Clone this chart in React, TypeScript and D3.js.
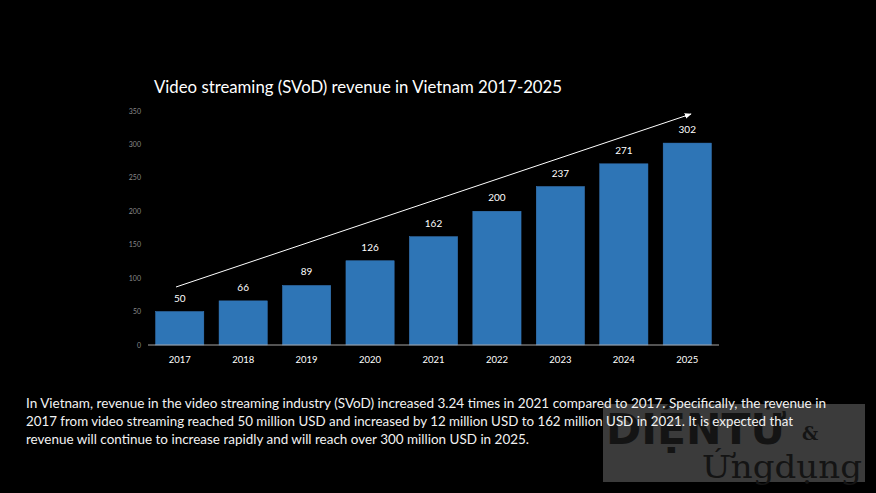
import React from "react";
import * as d3 from "d3";

const years = ["2017", "2018", "2019", "2020", "2021", "2022", "2023", "2024", "2025"];
const revenue = [50, 66, 89, 126, 162, 200, 237, 271, 302];
const yTicks = [0, 50, 100, 150, 200, 250, 300, 350];
const title = "Video streaming (SVoD) revenue in Vietnam 2017-2025";
const paragraph = [
  "In Vietnam, revenue in the video streaming industry (SVoD) increased 3.24 times in 2021 compared to 2017. Specifically, the revenue in",
  "2017 from video streaming reached 50 million USD and increased by 12 million USD to 162 million USD in 2021. It is expected that",
  "revenue will continue to increase rapidly and will reach over 300 million USD in 2025.",
];
const paragraphWidths = [800, 767, 503];

const W = 876;
const H = 493;
const FONT = "Lato, 'Open Sans', sans-serif";

export default function App() {
  const x = d3.scaleBand<string>().domain(years).range([148, 719]).paddingInner(0.24).paddingOuter(0.12);
  const y = d3.scaleLinear().domain([0, 350]).range([345, 111]);
  const arrowStart: [number, number] = [176, 287];
  const arrowEnd: [number, number] = [691, 114];
  return (
    <div style={{ position: "fixed", left: 0, top: 0, width: W, height: H, background: "#000" }}>
      <svg width={W} height={H} style={{ display: "block" }}>
        <defs>
          <marker id="ah" viewBox="0 0 10 10" refX="9" refY="5" markerWidth="7" markerHeight="7" orient="auto">
            <path d="M0,1 L10,5 L0,9 z" fill="#fff" />
          </marker>
        </defs>
        <rect x={0} y={0} width={W} height={H} fill="#000" />
        <text x={154} y={93} fill="#fff" fontFamily={FONT} fontSize={16.8} textLength={408} lengthAdjust="spacingAndGlyphs">{title}</text>
        {yTicks.map((t) => (
          <text key={t} x={141} y={y(t) + 2.5} textAnchor="end" fill="#8a8a8a" fontFamily={FONT} fontSize={7}>{t}</text>
        ))}
        {years.map((yr, i) => (
          <g key={yr}>
            <rect x={x(yr)} y={y(revenue[i])} width={x.bandwidth()} height={y(0) - y(revenue[i])} fill="#2e75b6" stroke="#3a7cc0" strokeWidth={0.5} />
            <text x={(x(yr) ?? 0) + x.bandwidth() / 2} y={y(revenue[i]) - 10} textAnchor="middle" fill="#fff" fontFamily={FONT} fontSize={10}>{revenue[i]}</text>
            <text x={(x(yr) ?? 0) + x.bandwidth() / 2} y={363} textAnchor="middle" fill="#fff" fontFamily={FONT} fontSize={9.5}>{yr}</text>
          </g>
        ))}
        <line x1={148} x2={719} y1={y(0)} y2={y(0)} stroke="#a6a6a6" strokeWidth={1} />
        <line x1={arrowStart[0]} y1={arrowStart[1]} x2={arrowEnd[0]} y2={arrowEnd[1]} stroke="#fff" strokeWidth={1} markerEnd="url(#ah)" />
        {/* watermark */}
        <rect x={603} y={404} width={262} height={78} fill="#3b3b3b" />
        <text x={606} y={444} fill="#141414" fontFamily="'DejaVu Sans', sans-serif" fontWeight="bold" fontSize={42} textLength={180} lengthAdjust="spacingAndGlyphs">DIỆNTỬ</text>
        <text x={802} y={440} fill="#141414" fontFamily="'DejaVu Serif', serif" fontWeight="bold" fontSize={18}>&amp;</text>
        <text x={702} y={478} fill="#141414" fontFamily="'DejaVu Serif', serif" fontSize={32} textLength={160} lengthAdjust="spacingAndGlyphs">Ứngdụng</text>
        {paragraph.map((line, i) => (
          <text key={i} x={26} y={408 + i * 18} fill="#f2f2f2" fontFamily={FONT} fontSize={13.4} textLength={paragraphWidths[i]} lengthAdjust="spacingAndGlyphs">{line}</text>
        ))}
      </svg>
    </div>
  );
}
